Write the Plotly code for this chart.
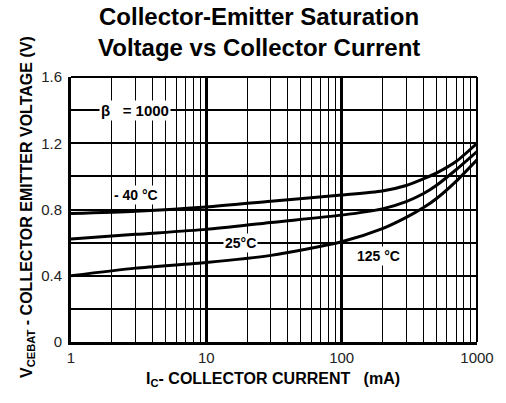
import math
import plotly.graph_objects as go

current_ma = [1, 3, 10, 30, 100, 200, 300, 400, 500, 700, 1000]
v_m40 = [0.776, 0.79, 0.815, 0.85, 0.887, 0.912, 0.945, 0.985, 1.02, 1.09, 1.20]
v_25 = [0.622, 0.65, 0.68, 0.722, 0.766, 0.804, 0.848, 0.895, 0.945, 1.04, 1.15]
v_125 = [0.40, 0.446, 0.48, 0.523, 0.605, 0.684, 0.752, 0.81, 0.865, 0.97, 1.10]

x_ticks = [1, 10, 100, 1000]
x_tick_labels = ["1", "10", "100", "1000"]
y_ticks = [0, 0.4, 0.8, 1.2, 1.6]
y_tick_labels = ["0", "0.4", "0.8", "1.2", "1.6"]

labels = [
    ("- 40 °C", 3.0, 0.888, 14),
    ("25°C", 17.9, 0.598, 14),
    ("125 °C", 188, 0.519, 14),
    ("β   = 1000", 2.96, 1.40, 15),
]

FONT = "Liberation Sans, Arial, sans-serif"

fig = go.Figure()
for ys in (v_m40, v_25, v_125):
    fig.add_trace(go.Scatter(x=current_ma, y=ys, mode="lines",
                             line=dict(color="black", width=3, shape="spline", smoothing=0.7),
                             showlegend=False, hoverinfo="skip"))

for text, xv, yv, fs in labels:
    fig.add_annotation(x=math.log10(xv), y=yv, xref="x", yref="y", text="<b>%s</b>" % text,
                       showarrow=False, bgcolor="white", font=dict(family=FONT, size=fs, color="black"),
                       borderpad=1, xanchor="center", yanchor="middle")

fig.add_annotation(x=0.4638, y=1.230, xref="paper", yref="paper", showarrow=False,
                   text="<b>Collector-Emitter Saturation</b>", xanchor="center", yanchor="middle",
                   font=dict(family=FONT, size=24, color="black"))
fig.add_annotation(x=0.4638, y=1.113, xref="paper", yref="paper", showarrow=False,
                   text="<b>Voltage vs Collector Current</b>", xanchor="center", yanchor="middle",
                   font=dict(family=FONT, size=24, color="black"))
fig.add_annotation(x=-0.1087, y=0.509, xref="paper", yref="paper", showarrow=False, textangle=-90,
                   text="<b>V<sub>CEBAT</sub> - COLLECTOR EMITTER VOLTAGE (V)</b>",
                   xanchor="center", yanchor="middle",
                   font=dict(family=FONT, size=16, color="black"))
fig.add_annotation(x=0.4976, y=-0.143, xref="paper", yref="paper", showarrow=False,
                   text="<b>I<sub>C</sub>- COLLECTOR CURRENT   (mA)</b>",
                   xanchor="center", yanchor="middle",
                   font=dict(family=FONT, size=16, color="black"))

fig.update_layout(
    width=506, height=403,
    margin=dict(l=71, r=21, t=77, b=61),
    paper_bgcolor="white", plot_bgcolor="white",
    font=dict(family=FONT, size=15, color="#222"),
    xaxis=dict(type="log", range=[0, 3], tickvals=x_ticks, ticktext=x_tick_labels,
               showgrid=True, gridcolor="black", gridwidth=2.5,
               minor=dict(dtick="D1", showgrid=True, gridcolor="black", gridwidth=1.3, ticks=""),
               showline=True, linecolor="black", linewidth=3, mirror=False,
               ticks="", zeroline=False, tickfont=dict(size=15, color="#222")),
    yaxis=dict(range=[0, 1.6], tickvals=y_ticks, ticktext=y_tick_labels,
               showgrid=True, gridcolor="black", gridwidth=1.5,
               minor=dict(dtick=0.2, showgrid=True, gridcolor="black", gridwidth=1.5, ticks=""),
               showline=True, linecolor="black", linewidth=3, mirror=False,
               ticks="outside", ticklen=3, tickcolor="rgba(0,0,0,0)",
               zeroline=False, tickfont=dict(size=15, color="#222")),
    shapes=[dict(type="line", xref="paper", yref="paper", x0=0, x1=1, y0=1, y1=1,
                 line=dict(color="black", width=2)),
            dict(type="line", xref="paper", yref="paper", x0=1, x1=1, y0=0, y1=1,
                 line=dict(color="black", width=2))],
)

fig.write_html("out.html", config={"displayModeBar": False},
               post_script="document.body.style.margin='0px';")
